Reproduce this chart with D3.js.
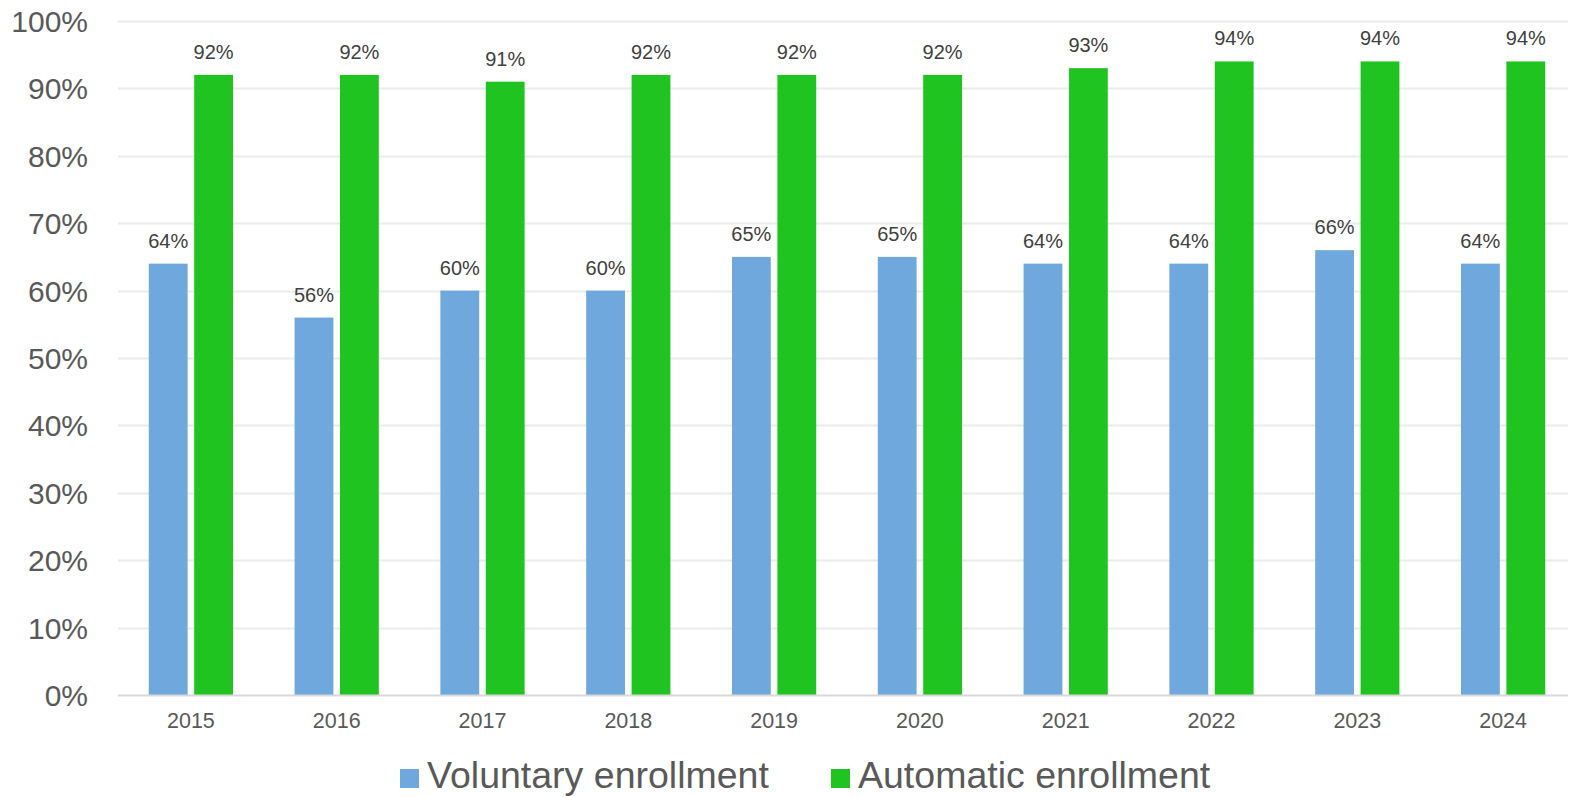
<!DOCTYPE html>
<html>
<head>
<meta charset="utf-8">
<script src="https://cdn.jsdelivr.net/npm/d3@7"></script>
<style>
  html, body { margin: 0; padding: 0; background: #fff; }
  svg { display: block; font-family: "Liberation Sans", Arial, sans-serif; }
</style>
</head>
<body>
<svg id="chart" width="1570" height="797"></svg>
<script>
// Participation rates by plan enrollment type
const years = ["2015", "2016", "2017", "2018", "2019", "2020", "2021", "2022", "2023", "2024"];
const voluntary = [0.64, 0.56, 0.60, 0.60, 0.65, 0.65, 0.64, 0.64, 0.66, 0.64];
const automatic = [0.92, 0.92, 0.91, 0.92, 0.92, 0.92, 0.93, 0.94, 0.94, 0.94];
const seriesNames = ["Voluntary enrollment", "Automatic enrollment"];
const seriesColors = ["#6FA8DC", "#20C421"];
const yTicks = [0, 0.1, 0.2, 0.3, 0.4, 0.5, 0.6, 0.7, 0.8, 0.9, 1.0];

const svg = d3.select("#chart");
const textColor = "#595959";
const labelColor = "#404040";

const plot = { left: 118, right: 1576, top: 21, bottom: 695, gridRight: 1568 };

const y = d3.scaleLinear().domain([0, 1]).range([plot.bottom, plot.top]);
const x0 = d3.scaleBand().domain(years).range([plot.left, plot.right]);
const x1 = d3.scaleBand().domain(seriesNames).range([0, x0.bandwidth()])
  .paddingInner(0.145).paddingOuter(0.678);

// Horizontal gridlines
svg.append("g").selectAll("line")
  .data(yTicks.filter(t => t > 0))
  .join("line")
  .attr("x1", plot.left).attr("x2", plot.gridRight)
  .attr("y1", d => Math.round(y(d)) + 0.5).attr("y2", d => Math.round(y(d)) + 0.5)
  .attr("stroke", "#EBEBEB").attr("stroke-width", 2);

// Y axis labels
const yAxis = d3.axisLeft(y).tickValues(yTicks).tickFormat(d3.format(".0%")).tickSize(0).tickPadding(0);
const yg = svg.append("g").attr("transform", "translate(88,0)").call(yAxis);
yg.select(".domain").remove();
yg.selectAll("text")
  .attr("fill", textColor).attr("font-size", 30)
  .attr("font-family", "'Liberation Sans', Arial, sans-serif")
  .attr("dy", "0.35em");

// Bars
const rows = years.map((yr, i) => ({ year: yr, values: [voluntary[i], automatic[i]] }));
const groups = svg.append("g").selectAll("g")
  .data(rows).join("g")
  .attr("transform", d => `translate(${x0(d.year)},0)`);

groups.selectAll("rect")
  .data(d => d.values.map((v, k) => ({ name: seriesNames[k], value: v, k })))
  .join("rect")
  .attr("x", d => x1(d.name))
  .attr("width", x1.bandwidth())
  .attr("y", d => y(d.value))
  .attr("height", d => y(0) - y(d.value))
  .attr("fill", d => seriesColors[d.k]);

groups.selectAll("text")
  .data(d => d.values.map((v, k) => ({ name: seriesNames[k], value: v, k })))
  .join("text")
  .attr("x", d => x1(d.name) + x1.bandwidth() / 2)
  .attr("y", d => y(d.value) - 16)
  .attr("text-anchor", "middle")
  .attr("font-size", 20)
  .attr("fill", labelColor)
  .text(d => d3.format(".0%")(d.value));

// X axis baseline
svg.append("line")
  .attr("x1", plot.left).attr("x2", plot.gridRight)
  .attr("y1", plot.bottom + 0.5).attr("y2", plot.bottom + 0.5)
  .attr("stroke", "#D9D9D9").attr("stroke-width", 2);

// X axis labels
const xAxis = d3.axisBottom(x0).tickSize(0).tickPadding(0);
const xg = svg.append("g").attr("transform", `translate(0,${plot.bottom})`).call(xAxis);
xg.select(".domain").remove();
xg.selectAll("text")
  .attr("fill", textColor).attr("font-size", 21.5)
  .attr("font-family", "'Liberation Sans', Arial, sans-serif")
  .attr("dy", null).attr("y", 33);

// Legend
const legendX = [400, 831];
const legend = svg.append("g").selectAll("g")
  .data(seriesNames).join("g")
  .attr("transform", (d, i) => `translate(${legendX[i]},769)`);
legend.append("rect").attr("width", 19).attr("height", 19)
  .attr("fill", (d, i) => seriesColors[i]);
legend.append("text").attr("x", 27).attr("y", 19)
  .attr("font-size", 37.5).attr("fill", textColor)
  .text(d => d);
</script>
</body>
</html>
